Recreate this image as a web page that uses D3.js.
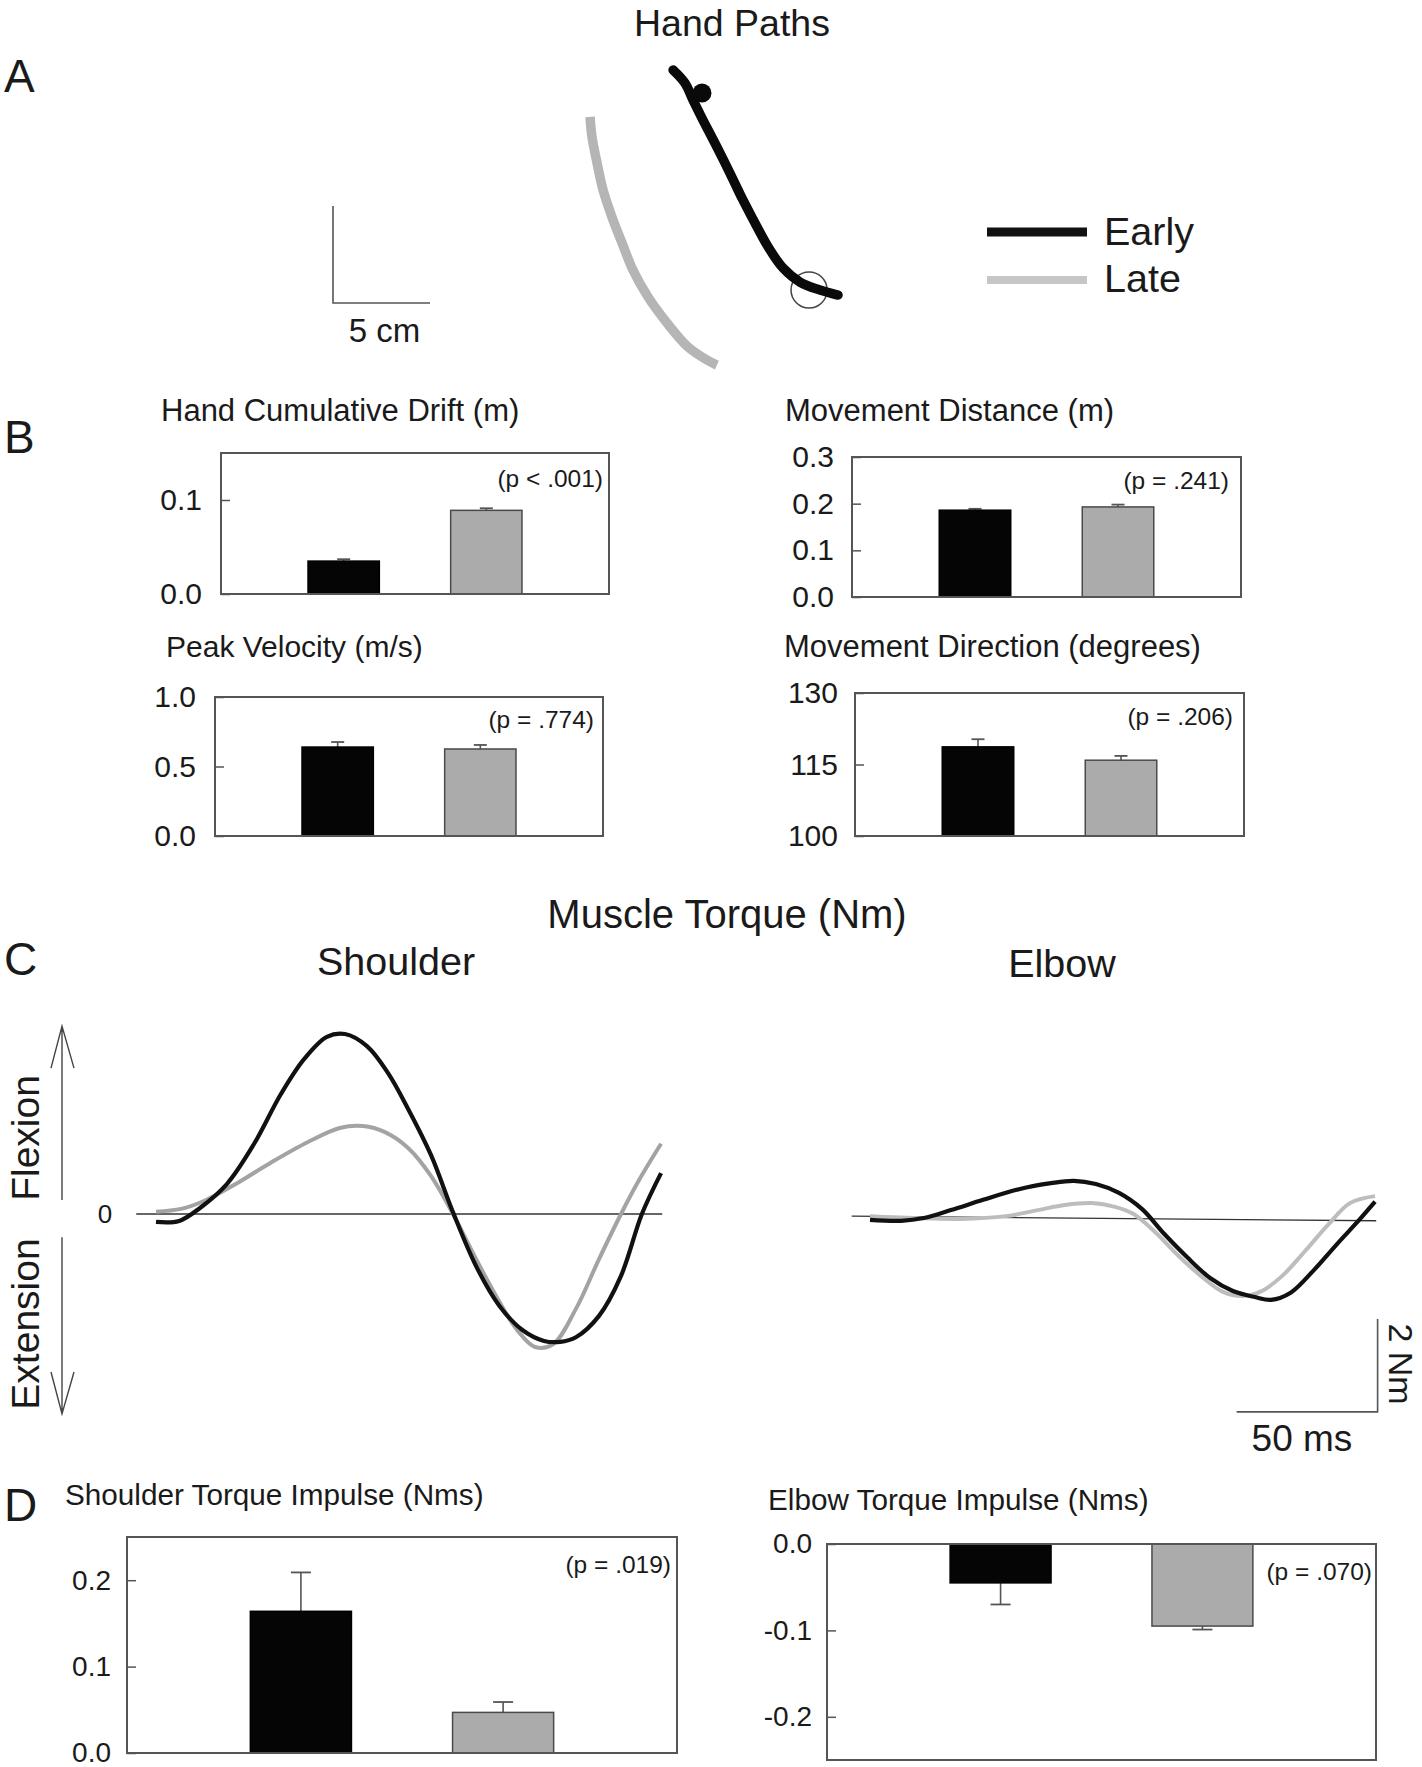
<!DOCTYPE html>
<html><head><meta charset="utf-8">
<script src="https://cdn.jsdelivr.net/npm/d3@7"></script>
<style>
body{margin:0;background:#fff}
svg{display:block}
text{font-family:"Liberation Sans",Arial,Helvetica,sans-serif;fill:#1a1a1a}
</style>
</head><body>
<svg id="c" width="1422" height="1767"></svg>
<script>
// ---------------- DATA ----------------
const groups = ["Early", "Late"];

// Panel A: hand paths (cm)
const handEarly = [[17.53,12.01],[18.14,11.34],[18.56,10.46],[19.07,9.43],[19.79,8.04],[20.46,6.70],[21.13,5.31],[21.86,3.92],[22.53,2.73],[23.20,1.80],[24.07,1.08],[25.10,0.67],[26.03,0.41]];
const handLate = [[13.25,9.59],[13.35,8.56],[13.61,7.22],[13.92,5.82],[14.38,4.43],[14.90,3.09],[15.46,1.70],[16.24,0.31],[17.22,-1.03],[18.30,-2.27],[19.28,-2.94],[19.79,-3.20]];
const startDot = [19.02, 10.82];
const target = [24.54, 0.67];
const targetRadiusCm = 0.93;
const scaleBarCm = 5;

// Panel B
const driftMean = [0.035, 0.089], driftErr = [0.002, 0.0022];
const distanceMean = [0.186, 0.193], distanceErr = [0.003, 0.005];
const velocityMean = [0.640, 0.626], velocityErr = [0.036, 0.029];
const directionMean = [118.7, 115.9], directionErr = [1.6, 0.9];
const driftTicks = [0, 0.1];
const distanceTicks = [0, 0.1, 0.2, 0.3];
const velocityTicks = [0, 0.5, 1.0];
const directionTicks = [100, 115, 130];

// Panel C: muscle torque (time ms, torque Nm)
const shEarlyT  = [0,8.2,15.6,25.2,34.8,44.3,52.5,60.6,67.0,74.8,82.3,89.4,97.5,105.3,113.5,121.6,129.8,137.6,143.3,148.9,157.1,164.9,172.3,179.1];
const shEarlyNm = [-0.17,-0.15,0.13,0.65,1.51,2.58,3.33,3.81,3.87,3.61,3.03,2.26,1.27,0.04,-1.12,-1.96,-2.49,-2.73,-2.75,-2.65,-2.19,-1.33,0.00,0.88];
const shLateT   = [0,8.9,17.0,28.4,41.1,53.9,65.2,73.4,81.2,89.4,97.5,105.3,113.5,121.6,128.0,134.4,140.8,148.9,157.1,164.9,171.3,179.1];
const shLateNm  = [0.05,0.11,0.28,0.65,1.12,1.55,1.85,1.89,1.76,1.42,0.82,0.00,-0.97,-1.87,-2.49,-2.86,-2.80,-2.04,-0.97,0.00,0.73,1.51];
const elEarlyT  = [0,11.0,19.1,28.7,40.1,52.8,64.2,72.3,80.1,88.3,96.5,104.3,112.4,120.6,128.7,136.5,142.2,149.3,157.4,165.6,173.8,179.1];
const elEarlyNm = [-0.04,-0.06,0.00,0.17,0.39,0.62,0.75,0.80,0.73,0.54,0.19,-0.34,-0.84,-1.29,-1.57,-1.70,-1.76,-1.60,-1.12,-0.56,-0.02,0.35];
const elLateT   = [0,16.0,31.9,48.2,59.6,69.1,78.7,86.9,93.3,101.1,109.2,117.4,125.2,131.9,138.3,146.1,154.3,162.4,170.2,179.1];
const elLateNm  = [0.04,0.00,-0.02,0.04,0.17,0.28,0.32,0.24,0.09,-0.30,-0.80,-1.25,-1.59,-1.68,-1.59,-1.25,-0.71,-0.15,0.32,0.47];
const scaleNm = 2, scaleMs = 50;

// Panel D
const shImpMean = [0.164, 0.047], shImpErr = [0.045, 0.012];
const elImpMean = [-0.045, -0.095], elImpErr = [0.025, 0.004];
const shImpTicks = [0, 0.1, 0.2];
const elImpTicks = [0, -0.1, -0.2];

const pLabels = ["(p < .001)", "(p = .241)", "(p = .774)", "(p = .206)", "(p = .019)", "(p = .070)"];

// ---------------- DRAW ----------------
const svg = d3.select("#c");
svg.append("rect").attr("width", 1422).attr("height", 1767).attr("fill", "#fff");

function txt(x, y, s, size, anchor = "start", rot = 0) {
  const t = svg.append("text").attr("font-size", size).attr("text-anchor", anchor).text(s);
  if (rot) t.attr("transform", `translate(${x},${y}) rotate(${rot})`);
  else t.attr("x", x).attr("y", y);
  return t;
}

// panel letters
txt(4, 92, "A", 46);
txt(4, 453, "B", 46);
txt(4, 975, "C", 46);
txt(4, 1521, "D", 46);

// ---- Panel A ----
txt(732, 36, "Hand Paths", 37.5, "middle");
const cmPx = 19.4;
const hx = d3.scaleLinear().domain([0, 5]).range([333, 333 + 5 * cmPx]);
const hy = d3.scaleLinear().domain([0, 5]).range([303, 303 - 5 * cmPx]);
svg.append("path")
  .attr("d", `M${hx(0)},${hy(scaleBarCm)}V${hy(0)}H${hx(scaleBarCm)}`)
  .attr("fill", "none").attr("stroke", "#555").attr("stroke-width", 1.6);
txt((hx(0) + hx(scaleBarCm)) / 2 + 3, 342, "5 cm", 33, "middle");

const hLine = d3.line().x(d => hx(d[0])).y(d => hy(d[1])).curve(d3.curveCatmullRom);
svg.append("circle").attr("cx", hx(target[0])).attr("cy", hy(target[1]))
  .attr("r", hx(targetRadiusCm) - hx(0)).attr("fill", "none").attr("stroke", "#444").attr("stroke-width", 1.5);
svg.append("path").attr("d", hLine(handLate)).attr("fill", "none")
  .attr("stroke", "#b5b5b5").attr("stroke-width", 9.5);
svg.append("path").attr("d", hLine(handEarly)).attr("fill", "none")
  .attr("stroke", "#0a0a0a").attr("stroke-width", 9.5).attr("stroke-linecap", "round");
svg.append("circle").attr("cx", hx(startDot[0])).attr("cy", hy(startDot[1])).attr("r", 9.5).attr("fill", "#0a0a0a");

// legend
svg.append("line").attr("x1", 987).attr("x2", 1087).attr("y1", 232).attr("y2", 232)
  .attr("stroke", "#111").attr("stroke-width", 9);
svg.append("line").attr("x1", 987).attr("x2", 1087).attr("y1", 280).attr("y2", 280)
  .attr("stroke", "#c6c6c6").attr("stroke-width", 8);
txt(1104, 245, groups[0], 39.5);
txt(1104, 292, groups[1], 39.5);

// ---- Bar panels ----
const fmt1 = d => d.toFixed(1);
const fmt0 = d => String(d);

function barPanel(o) {
  const xs = d3.scaleBand().domain(groups).range([o.x, o.x + o.w]).paddingInner(0.5).paddingOuter(0.61);
  const ys = d3.scaleLinear().domain(o.domain).range([o.y + o.h, o.y]);
  const base = o.base;
  txt(o.tx, o.ty, o.title, o.titleSize);
  const ax = svg.append("g").attr("transform", `translate(${o.x},0)`)
    .call(d3.axisLeft(ys).tickValues(o.ticks).tickFormat(o.fmt).tickSize(-9).tickPadding(o.gap));
  ax.select(".domain").remove();
  ax.attr("font-family", null).attr("font-size", o.tickSize);
  ax.selectAll("line").attr("stroke", "#555").attr("stroke-width", 1.5);
  ax.selectAll("text").attr("fill", "#1a1a1a");
  const colors = ["#050505", "#ababab"];
  groups.forEach((g, i) => {
    const v = o.means[i];
    const sgn = v >= base ? 1 : -1;
    const cx = xs(g) + xs.bandwidth() / 2;
    const y1 = ys(v), y2 = ys(v + sgn * o.errs[i]);
    svg.append("line").attr("x1", cx).attr("x2", cx).attr("y1", y1).attr("y2", y2)
      .attr("stroke", "#555").attr("stroke-width", 1.6);
    svg.append("line").attr("x1", cx - o.cap / 2).attr("x2", cx + o.cap / 2).attr("y1", y2).attr("y2", y2)
      .attr("stroke", "#555").attr("stroke-width", 1.8);
  });
  svg.append("g").selectAll("rect").data(groups).join("rect")
    .attr("x", d => xs(d))
    .attr("width", xs.bandwidth())
    .attr("y", (d, i) => Math.min(ys(base), ys(o.means[i])))
    .attr("height", (d, i) => Math.abs(ys(base) - ys(o.means[i])))
    .attr("fill", (d, i) => colors[i])
    .attr("stroke", (d, i) => i ? "#4a4a4a" : "#000")
    .attr("stroke-width", 1.5);
  svg.append("rect").attr("x", o.x).attr("y", o.y).attr("width", o.w).attr("height", o.h)
    .attr("fill", "none").attr("stroke", "#555").attr("stroke-width", 2);
  txt(o.x + o.w + o.pdx, o.y + o.pdy, o.p, 24.5, "end").attr("fill", "#333");
}

barPanel({x: 221, y: 453, w: 388, h: 141, domain: [0, 0.15], base: 0, ticks: driftTicks, fmt: fmt1,
  means: driftMean, errs: driftErr, title: "Hand Cumulative Drift (m)", tx: 161, ty: 421, titleSize: 31,
  tickSize: 30, gap: 19, cap: 13, p: pLabels[0], pdx: -6, pdy: 34});
barPanel({x: 852, y: 457, w: 389, h: 140, domain: [0, 0.3], base: 0, ticks: distanceTicks, fmt: fmt1,
  means: distanceMean, errs: distanceErr, title: "Movement Distance (m)", tx: 785, ty: 421, titleSize: 31,
  tickSize: 30, gap: 18, cap: 13, p: pLabels[1], pdx: -12, pdy: 32});
barPanel({x: 215, y: 697, w: 388, h: 139, domain: [0, 1.0], base: 0, ticks: velocityTicks, fmt: fmt1,
  means: velocityMean, errs: velocityErr, title: "Peak Velocity (m/s)", tx: 166, ty: 657, titleSize: 30,
  tickSize: 30, gap: 19, cap: 13, p: pLabels[2], pdx: -9, pdy: 31});
barPanel({x: 855, y: 693, w: 389, h: 143, domain: [100, 130], base: 100, ticks: directionTicks, fmt: fmt0,
  means: directionMean, errs: directionErr, title: "Movement Direction (degrees)", tx: 784, ty: 657, titleSize: 31,
  tickSize: 30, gap: 17, cap: 13, p: pLabels[3], pdx: -11, pdy: 32});
barPanel({x: 127, y: 1537, w: 550, h: 216, domain: [0, 0.25], base: 0, ticks: shImpTicks, fmt: fmt1,
  means: shImpMean, errs: shImpErr, title: "Shoulder Torque Impulse (Nms)", tx: 65, ty: 1505, titleSize: 29.7,
  tickSize: 28, gap: 16, cap: 20, p: pLabels[4], pdx: -6, pdy: 36});
barPanel({x: 827, y: 1544, w: 549, h: 216, domain: [-0.25, 0], base: 0, ticks: elImpTicks, fmt: fmt1,
  means: elImpMean, errs: elImpErr, title: "Elbow Torque Impulse (Nms)", tx: 768, ty: 1510, titleSize: 29.7,
  tickSize: 28, gap: 15, cap: 20, p: pLabels[5], pdx: -4, pdy: 36});

// ---- Panel C ----
txt(727, 928, "Muscle Torque (Nm)", 40, "middle");
txt(396, 975, "Shoulder", 39.5, "middle");
txt(1062, 977, "Elbow", 39.5, "middle");

const msPx = 2.82, nmPx = 46.5;
const txS = d3.scaleLinear().domain([0, 180]).range([156, 156 + 180 * msPx]);
const txE = d3.scaleLinear().domain([0, 180]).range([870, 870 + 180 * msPx]);
const tyS = d3.scaleLinear().domain([-4, 4]).range([1214 + 4 * nmPx, 1214 - 4 * nmPx]);
const tyE = d3.scaleLinear().domain([-4, 4]).range([1218 + 4 * nmPx, 1218 - 4 * nmPx]);

svg.append("line").attr("x1", txS(-7)).attr("x2", txS(179.5)).attr("y1", tyS(0)).attr("y2", tyS(0))
  .attr("stroke", "#333").attr("stroke-width", 1.4);
svg.append("line").attr("x1", txE(-6.5)).attr("x2", txE(179.5)).attr("y1", tyE(0.04)).attr("y2", tyE(-0.06))
  .attr("stroke", "#333").attr("stroke-width", 1.4);
txt(105, tyS(0) + 9, "0", 26, "middle");

function curve(xsc, ysc, T, V, color, w) {
  const pts = T.map((t, i) => [t, V[i]]);
  svg.append("path").attr("d", d3.line().x(d => xsc(d[0])).y(d => ysc(d[1])).curve(d3.curveCatmullRom)(pts))
    .attr("fill", "none").attr("stroke", color).attr("stroke-width", w).attr("stroke-linejoin", "round");
}
curve(txS, tyS, shLateT, shLateNm, "#a3a3a3", 4);
curve(txS, tyS, shEarlyT, shEarlyNm, "#111", 4.2);
curve(txE, tyE, elLateT, elLateNm, "#bdbdbd", 4);
curve(txE, tyE, elEarlyT, elEarlyNm, "#111", 4.2);

const arrX = 62;
const aTop = tyS(4.04), aUpEnd = tyS(0.3), aDnStart = tyS(-0.5), aBot = tyS(-4.30);
const arrow = svg.append("g").attr("stroke", "#444").attr("stroke-width", 1.4).attr("fill", "none");
arrow.append("path").attr("d", `M${arrX},${aUpEnd}V${aTop}M${arrX - 11},${aTop + 42}L${arrX},${aTop}L${arrX + 12},${aTop + 42}`);
arrow.append("path").attr("d", `M${arrX},${aDnStart}V${aBot}M${arrX - 11},${aBot - 42}L${arrX},${aBot}L${arrX + 12},${aBot - 42}`);
txt(39, 1138, "Flexion", 39, "middle", -90);
txt(39, 1324, "Extension", 39, "middle", -90);

const sbX = txE(180);
svg.append("path")
  .attr("d", `M${txE(180 - scaleMs)},${tyE(-4.17)}H${sbX}V${tyE(-4.17 + scaleNm)}`)
  .attr("fill", "none").attr("stroke", "#555").attr("stroke-width", 1.6);
txt(1389, 1364, "2 Nm", 34, "middle", 90);
txt(1302, 1451, "50 ms", 37, "middle");
</script>
</body></html>
